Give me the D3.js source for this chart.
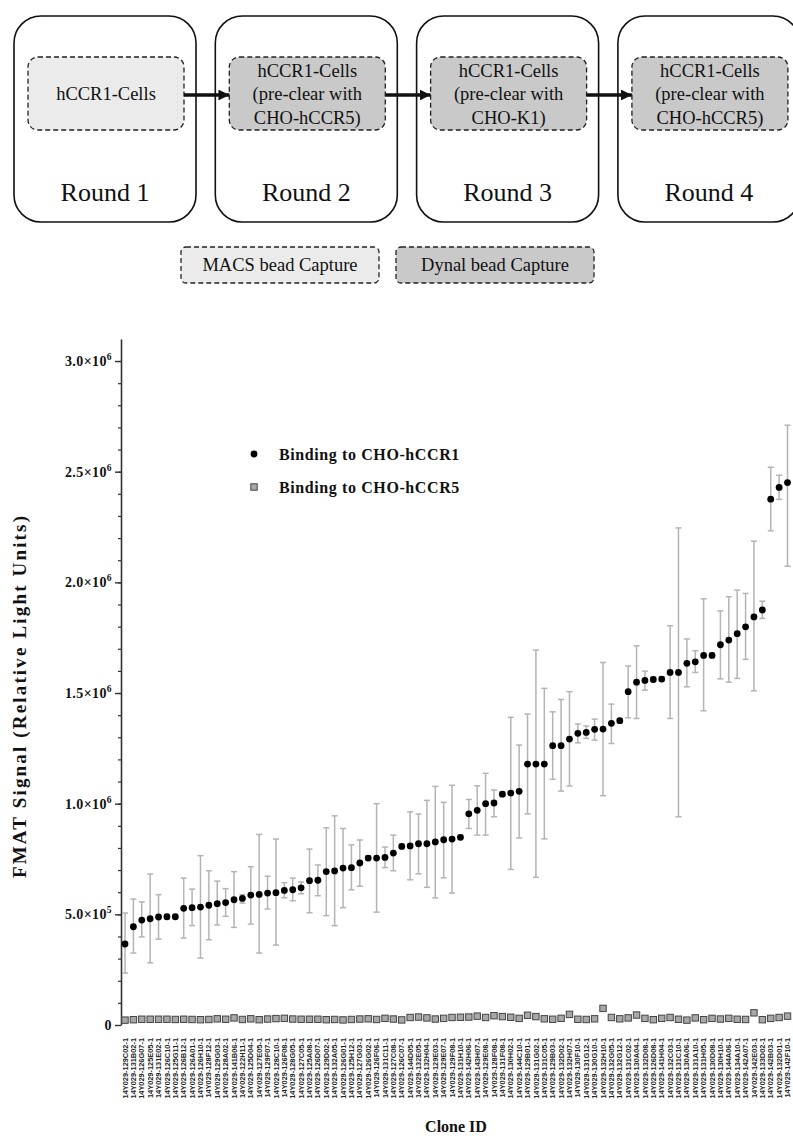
<!DOCTYPE html>
<html>
<head>
<meta charset="utf-8">
<script src="https://cdn.jsdelivr.net/npm/d3@7"></script>
<style>
  body { margin: 0; background: #fff; }
  svg { display: block; }
</style>
</head>
<body>
<div id="chart"></div>
<script>
// selection rounds
var rounds = ["Round 1", "Round 2", "Round 3", "Round 4"];
var roundText = [
  ["hCCR1-Cells"],
  ["hCCR1-Cells", "(pre-clear with", "CHO-hCCR5)"],
  ["hCCR1-Cells", "(pre-clear with", "CHO-K1)"],
  ["hCCR1-Cells", "(pre-clear with", "CHO-hCCR5)"]
];
var roundBead = ["MACS", "Dynal", "Dynal", "Dynal"];
var beadLegend = ["MACS bead Capture", "Dynal bead Capture"];

// clone ids
var clones = [
  "14Y029-129C02-1","14Y029-131B02-1","14Y029-126G07-1","14Y029-125E05-1","14Y029-131E02-1",
  "14Y029-126C10-1","14Y029-125G11-1","14Y029-126B12-1","14Y029-126A01-1","14Y029-126H10-1",
  "14Y029-128F12-1","14Y029-129G03-1","14Y029-128A02-1","14Y029-141B06-1","14Y029-122H11-1",
  "14Y029-125D04-1","14Y029-127E05-1","14Y029-129F07-1","14Y029-128C10-1","14Y029-126F08-1",
  "14Y029-128G05-1","14Y029-127C05-1","14Y029-125A08-1","14Y029-126D07-1","14Y029-129D02-1",
  "14Y029-132A05-1","14Y029-126G01-1","14Y029-125H12-1","14Y029-127G03-1","14Y029-126G02-1",
  "14Y029-126F06-1","14Y029-131C11-1","14Y029-127C08-1","14Y029-126C07-1","14Y029-144D05-1",
  "14Y029-132E05-1","14Y029-132H04-1","14Y029-129E03-1","14Y029-129E07-1","14Y029-129F08-1",
  "14Y029-131H10-1","14Y029-142H06-1","14Y029-143H07-1","14Y029-129E08-1","14Y029-128F08-1",
  "14Y029-131F08-1","14Y029-130H02-1","14Y029-144C10-1","14Y029-129B01-1","14Y029-131G02-1",
  "14Y029-131C05-1","14Y029-129B03-1","14Y029-132D02-1","14Y029-132H07-1","14Y029-130F10-1",
  "14Y029-131G12-1","14Y029-130G10-1","14Y029-132H10-1","14Y029-132G05-1","14Y029-132G12-1",
  "14Y029-131C02-1","14Y029-130A04-1","14Y029-132D08-1","14Y029-126D08-1","14Y029-141H04-1",
  "14Y029-132C03-1","14Y029-131C10-1","14Y029-130A06-1","14Y029-131A10-1","14Y029-131H05-1",
  "14Y029-130D08-1","14Y029-130H10-1","14Y029-144A06-1","14Y029-134A10-1","14Y029-142A07-1",
  "14Y029-142E03-1","14Y029-133D02-1","14Y029-142B03-1","14Y029-132D01-1","14Y029-142F10-1"
];

// binding to CHO-hCCR1 (x1000 RLU): mean, top and bottom of error bar
var hccr1Mean = [
  366,444,474,480,488,489,489,527,530,533,
  541,548,553,566,572,587,590,596,598,608,
  611,620,652,654,693,696,709,711,732,754,
  754,757,777,807,809,819,819,827,837,840,
  848,954,970,1000,1003,1043,1048,1056,1179,1179,
  1179,1262,1262,1292,1318,1322,1336,1337,1363,1375,
  1506,1549,1557,1561,1563,1593,1593,1634,1641,1670,
  1670,1718,1739,1768,1799,1844,1875,2376,2429,2451
];
var hccr1Upper = [
  506,569,556,682,589,499,499,664,614,765,
  697,650,616,693,589,715,861,672,840,643,
  664,646,795,723,891,945,888,814,836,764,
  1000,804,858,817,963,953,1015,1078,1006,1083,
  858,1019,1081,1137,1062,1053,1390,1265,1405,1694,
  1521,1415,1471,1506,1360,1351,1382,1638,1450,1385,
  1622,1713,1599,1571,1573,1804,2246,1744,1691,1926,
  1680,1871,1935,1965,1950,2186,1915,2520,2484,2710
];
var hccr1Lower = [
  235,325,398,281,388,479,479,393,449,302,
  385,452,491,441,551,456,325,524,361,575,
  561,593,507,584,494,449,530,611,627,744,
  510,711,697,797,656,683,622,574,665,596,
  838,888,858,858,941,1033,703,845,954,667,
  841,1110,1057,1080,1275,1295,1287,1036,1272,1365,
  1388,1385,1513,1551,1553,1385,941,1528,1593,1420,
  1660,1564,1549,1566,1652,1510,1837,2233,2375,2073
];
// binding to CHO-hCCR5 (x1000 RLU)
var hccr5Mean = [
  22,24,26,26,26,26,25,26,25,24,
  25,28,26,32,25,28,24,27,29,30,
  27,26,26,26,24,25,23,25,27,28,
  25,30,27,23,34,36,32,27,30,34,
  35,36,40,34,42,38,35,30,44,38,
  28,26,30,48,26,25,28,75,34,28,
  32,45,30,24,30,34,26,22,32,24,
  30,27,30,26,25,55,24,30,34,40
];

var majorTicks = [0, 500000, 1000000, 1500000, 2000000, 2500000, 3000000];
var majorLabels = [["0", ""], ["5.0×10", "5"], ["1.0×10", "6"], ["1.5×10", "6"],
                   ["2.0×10", "6"], ["2.5×10", "6"], ["3.0×10", "6"]];
var seriesNames = ["Binding to CHO-hCCR1", "Binding to CHO-hCCR5"];

var width = 793;
var height = 1136;
var serif = "'Liberation Serif', 'Times New Roman', serif";

var svg = d3.select("#chart").append("svg")
  .attr("width", width)
  .attr("height", height)
  .attr("viewBox", "0 0 " + width + " " + height);

// ---------- top: selection scheme ----------
var boxX = d3.scaleLinear().domain([0, 1]).range([14, 215.3]);
var fillFor = function(b){ return b == "MACS" ? "#ebebeb" : "#c9c9c9"; };

var scheme = svg.append("g");

var rg = scheme.selectAll("g.round").data(rounds).enter().append("g")
  .attr("class", "round")
  .attr("transform", function(d, i){ return "translate(" + boxX(i) + ",0)"; });

rg.append("rect")
  .attr("x", 0).attr("y", 16)
  .attr("width", 182).attr("height", 206)
  .attr("rx", 27).attr("ry", 27)
  .attr("fill", "#fff")
  .attr("stroke", "#111")
  .attr("stroke-width", 1.6);

rg.append("rect")
  .attr("x", 14).attr("y", 57)
  .attr("width", 156).attr("height", 73)
  .attr("rx", 10).attr("ry", 10)
  .attr("fill", function(d, i){ return fillFor(roundBead[i]); })
  .attr("stroke", "#222")
  .attr("stroke-width", 1.3)
  .attr("stroke-dasharray", "5,3");

rg.append("text")
  .attr("x", 92)
  .attr("text-anchor", "middle")
  .style("font-family", serif)
  .style("font-size", "18.5px")
  .attr("fill", "#111")
  .selectAll("tspan")
  .data(function(d, i){ return roundText[i]; })
  .enter().append("tspan")
    .attr("x", 92)
    .attr("y", function(d, j, nodes){
      var n = nodes.length;
      return 100 + (j - (n - 1) / 2) * 23.5;
    })
    .text(function(d){ return d; });

rg.append("text")
  .attr("x", 91).attr("y", 201)
  .attr("text-anchor", "middle")
  .style("font-family", serif)
  .style("font-size", "26px")
  .attr("fill", "#111")
  .text(function(d){ return d; });

// arrows between rounds
svg.append("defs").append("marker")
  .attr("id", "head")
  .attr("viewBox", "0 0 10 10")
  .attr("refX", 10).attr("refY", 5)
  .attr("markerWidth", 3.2).attr("markerHeight", 3.2)
  .attr("markerUnits", "strokeWidth")
  .attr("orient", "auto")
  .append("path")
    .attr("d", "M0,0 L10,5 L0,10 Z")
    .attr("fill", "#111");

scheme.selectAll("line.arrow").data(rounds.slice(1)).enter().append("line")
  .attr("class", "arrow")
  .attr("x1", function(d, i){ return boxX(i) + 170; })
  .attr("x2", function(d, i){ return boxX(i + 1) + 14; })
  .attr("y1", 95).attr("y2", 95)
  .attr("stroke", "#111")
  .attr("stroke-width", 3.4)
  .attr("marker-end", "url(#head)");

// bead legend
var bl = scheme.selectAll("g.bead").data(beadLegend).enter().append("g")
  .attr("class", "bead")
  .attr("transform", function(d, i){ return "translate(" + (181 + i * 215) + ",247)"; });

bl.append("rect")
  .attr("width", 198).attr("height", 36)
  .attr("rx", 5).attr("ry", 5)
  .attr("fill", function(d, i){ return i == 0 ? "#ebebeb" : "#c9c9c9"; })
  .attr("stroke", "#222")
  .attr("stroke-width", 1.3)
  .attr("stroke-dasharray", "5,3");

bl.append("text")
  .attr("x", 99).attr("y", 24)
  .attr("text-anchor", "middle")
  .style("font-family", serif)
  .style("font-size", "18.5px")
  .attr("fill", "#111")
  .text(function(d){ return d; });

// ---------- bottom: FMAT chart ----------
var x = d3.scalePoint().domain(clones).range([125, 787.5]);
var y = d3.scaleLinear().domain([0, 3100000]).range([1025, 338.9]);

var chart = svg.append("g");

chart.append("g")
  .attr("transform", "translate(121,0)")
  .call(d3.axisLeft(y).tickValues(d3.range(100000, 3050000, 100000)).tickSize(3).tickFormat(""))
  .call(function(g){ g.select(".domain").remove(); })
  .selectAll("line").attr("stroke", "#333").attr("stroke-width", 1.2);

var yAxis = chart.append("g")
  .attr("transform", "translate(121,0)")
  .call(d3.axisLeft(y).tickValues(majorTicks).tickSize(6).tickSizeOuter(0).tickFormat(""));
yAxis.select(".domain").attr("stroke", "#333").attr("stroke-width", 1.6);
yAxis.selectAll("line").attr("stroke", "#333").attr("stroke-width", 1.4);

var yl = chart.append("g").selectAll("text").data(majorTicks).enter().append("text")
  .attr("x", 112)
  .attr("y", function(d){ return y(d) + 5; })
  .attr("text-anchor", "end")
  .style("font-family", serif)
  .style("font-weight", "bold")
  .style("font-size", "14px")
  .style("letter-spacing", "0.4px")
  .attr("fill", "#111");
yl.append("tspan").text(function(d, i){ return majorLabels[i][0]; });
yl.append("tspan")
  .attr("dy", -6)
  .style("font-size", "9.5px")
  .text(function(d, i){ return majorLabels[i][1]; });

// error bars
var eb = chart.append("g").selectAll("g").data(clones).enter().append("g")
  .attr("stroke", "#b4b4b4")
  .attr("stroke-width", 1.5);
eb.append("line")
  .attr("x1", function(d){ return x(d); })
  .attr("x2", function(d){ return x(d); })
  .attr("y1", function(d, i){ return y(hccr1Upper[i] * 1000); })
  .attr("y2", function(d, i){ return y(hccr1Lower[i] * 1000); });
eb.append("line")
  .attr("x1", function(d){ return x(d) - 3; })
  .attr("x2", function(d){ return x(d) + 3; })
  .attr("y1", function(d, i){ return y(hccr1Upper[i] * 1000); })
  .attr("y2", function(d, i){ return y(hccr1Upper[i] * 1000); });
eb.append("line")
  .attr("x1", function(d){ return x(d) - 3; })
  .attr("x2", function(d){ return x(d) + 3; })
  .attr("y1", function(d, i){ return y(hccr1Lower[i] * 1000); })
  .attr("y2", function(d, i){ return y(hccr1Lower[i] * 1000); });

// CHO-hCCR5 squares
chart.append("g").selectAll("rect").data(clones).enter().append("rect")
  .attr("x", function(d){ return x(d) - 3.2; })
  .attr("y", function(d, i){ return y(hccr5Mean[i] * 1000) - 3.2; })
  .attr("width", 6.4).attr("height", 6.4)
  .attr("fill", "#a8a8a8")
  .attr("stroke", "#444")
  .attr("stroke-width", 1);

// CHO-hCCR1 dots
chart.append("g").selectAll("circle").data(clones).enter().append("circle")
  .attr("cx", function(d){ return x(d); })
  .attr("cy", function(d, i){ return y(hccr1Mean[i] * 1000); })
  .attr("r", 3.4)
  .attr("fill", "#000");

// clone labels
chart.append("g").selectAll("text").data(clones).enter().append("text")
  .attr("transform", function(d){ return "translate(" + (x(d) + 2.6) + ",1038) rotate(-90)"; })
  .attr("text-anchor", "end")
  .style("font-family", "'Liberation Sans', Arial, sans-serif")
  .style("font-weight", "bold")
  .style("font-size", "7.4px")
  .attr("fill", "#222")
  .text(function(d){ return d; });

// legend
var lg = chart.append("g").attr("transform", "translate(254,454)");
lg.append("circle").attr("cx", 0).attr("cy", 0).attr("r", 3.4).attr("fill", "#000");
lg.append("rect")
  .attr("x", -3.2).attr("y", 29.8).attr("width", 6.4).attr("height", 6.4)
  .attr("fill", "#a8a8a8").attr("stroke", "#444").attr("stroke-width", 1);
lg.selectAll("text").data(seriesNames).enter().append("text")
  .attr("x", 25)
  .attr("y", function(d, i){ return 5.5 + i * 33; })
  .style("font-family", serif)
  .style("font-weight", "bold")
  .style("font-size", "16px")
  .style("letter-spacing", "0.6px")
  .attr("fill", "#111")
  .text(function(d){ return d; });

// axis titles
chart.append("text")
  .attr("transform", "translate(26,697) rotate(-90)")
  .attr("text-anchor", "middle")
  .style("font-family", serif)
  .style("font-weight", "bold")
  .style("font-size", "19px")
  .attr("textLength", 362)
  .attr("lengthAdjust", "spacing")
  .attr("fill", "#111")
  .text("FMAT Signal (Relative Light Units)");

chart.append("text")
  .attr("x", 456).attr("y", 1132)
  .attr("text-anchor", "middle")
  .style("font-family", serif)
  .style("font-weight", "bold")
  .style("font-size", "16px")
  .attr("fill", "#111")
  .text("Clone ID");
</script>
</body>
</html>
